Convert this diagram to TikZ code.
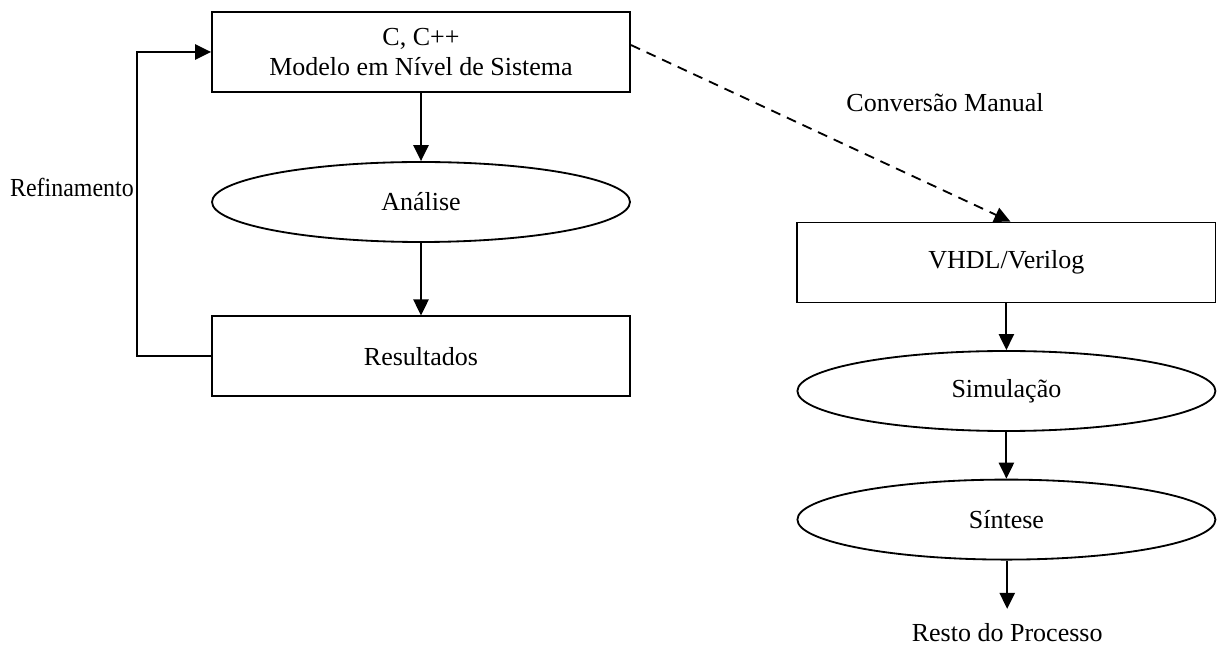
\documentclass[tikz,border=0pt]{standalone}
\usepackage{fontspec}
\setmainfont{Liberation Serif}
\usetikzlibrary{positioning, arrows.meta, shapes.geometric}

\begin{document}
\begin{tikzpicture}[
  font=\fontsize{18.5}{21.5}\selectfont,
  block/.style={draw, line width=1.3pt, minimum width=10.45cm, minimum height=2cm, align=center},
  oval/.style={draw, ellipse, line width=1.3pt, minimum width=10.45cm, minimum height=2cm, inner sep=0pt},
  arrow/.style={-{Triangle[length=4mm, width=3.8mm]}, line width=1.3pt},
  conv/.style={-{Triangle[length=4mm, width=3.8mm]}, line width=1.3pt, dash pattern=on 2.5mm off 1.8mm}
]
\useasboundingbox (0,0) rectangle (30.425,-16.15);

% left column
\node[block] (sysmod) at (10.525,-1.3) {C, C++\\Modelo em Nível de Sistema};
\node[oval] (anal) at (10.525,-5.05) {Análise};
\node[block] (res) at (10.525,-8.91) {Resultados};

\draw[arrow] (sysmod) -- (anal);
\draw[arrow] (anal) -- (res);

% refinement loop
\draw[arrow] (res.west) -- ++(-1.85,0) |- (sysmod.west);
\node[anchor=east, inner sep=0pt, xscale=0.92, transform shape] (refin) at (3.35,-4.675) {Refinamento};

% right column
\node[block] (vhdl) at (25.16,-6.5625) {VHDL/Verilog};
\node[oval] (sim) at (25.16,-9.775) {Simulação};
\node[oval] (sint) at (25.16,-12.99) {Síntese};
\node (rest) at (25.18,-15.825) {Resto do Processo};

\draw[arrow] (vhdl) -- (sim);
\draw[arrow] (sim) -- (sint);
\draw[arrow] (sint.south -| rest) -- ([yshift=0.25cm]rest.north);

% manual conversion
\draw[conv] ([yshift=0.175cm]sysmod.east) -- ([xshift=0.1cm]vhdl.north);
\node (convlbl) at (23.625,-2.575) {Conversão Manual};

\end{tikzpicture}
\end{document}
